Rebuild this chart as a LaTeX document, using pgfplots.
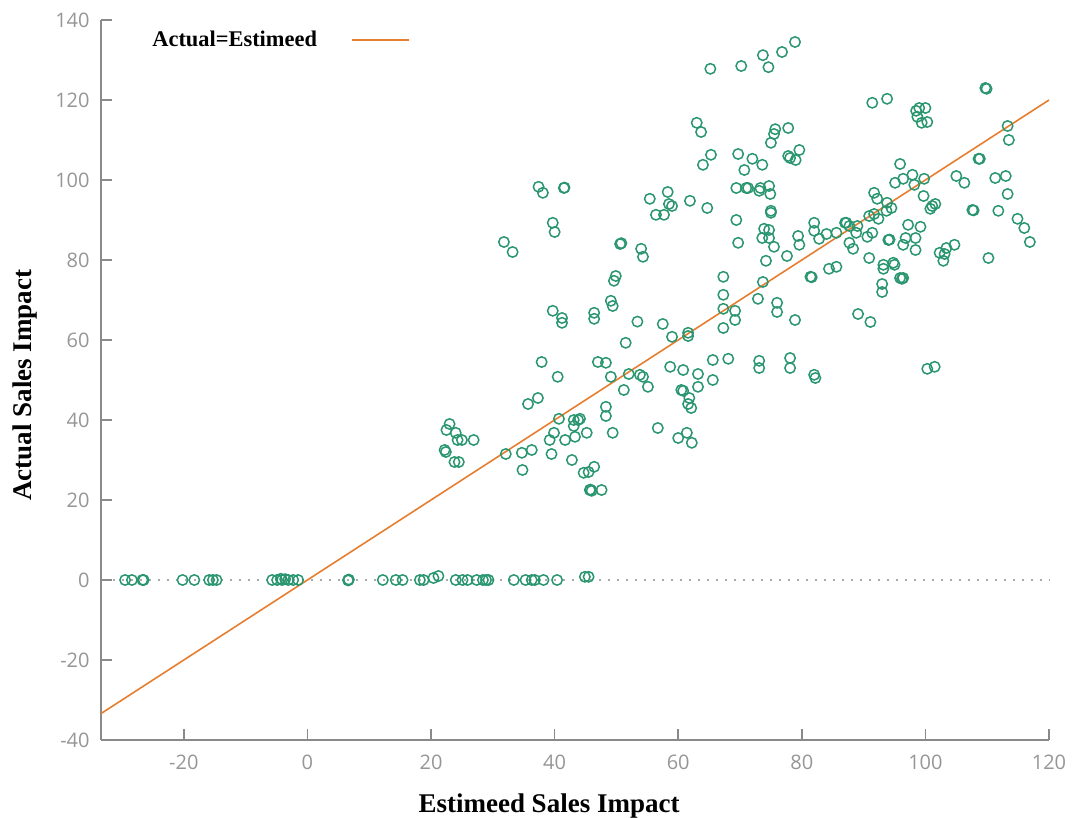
\documentclass[border=0pt]{standalone}
\usepackage{pgfplots}
\pgfplotsset{compat=1.18}
\usepackage{fontspec}
\setmainfont{Liberation Serif}
\newfontfamily\opensans{Open Sans}
\definecolor{ptgreen}{HTML}{2A9670}
\definecolor{lineorange}{HTML}{E67E30}
\definecolor{axgray}{HTML}{8A8A8A}
\definecolor{lblgray}{HTML}{969696}
\definecolor{dotgray}{HTML}{AAAAAA}
\begin{document}
\begin{tikzpicture}
\begin{axis}[
  scale only axis,
  width=474pt, height=360pt,
  xmin=-33.4, xmax=120, ymin=-40, ymax=140,
  axis lines*=left,
  axis line style={-, draw=axgray, line width=0.8pt},
  tick align=inside,
  major tick length=5.5pt,
  tick style={draw=axgray, line width=0.8pt},
  xtick={-20,0,20,40,60,80,100,120},
  xticklabels={-20,0,20,40,60,80,100,120},
  ytick={-40,-20,0,20,40,60,80,100,120,140},
  yticklabels={-40,-20,0,20,40,60,80,100,120,140},
  tick label style={font=\opensans\fontsize{10}{12}\selectfont, text=lblgray, inner sep=0pt},
  xticklabel shift=7.5pt,
  yticklabel shift=5.5pt,
  xlabel={Estimeed Sales Impact},
  ylabel={Actual Sales Impact},
  every axis x label/.style={at={(axis description cs:0.4726,-0.100)}, anchor=base,
    font=\bfseries\fontsize{13.5}{16}\selectfont},
  every axis y label/.style={at={(axis description cs:-0.0738,0.493)}, rotate=90, anchor=base,
    font=\bfseries\fontsize{13.5}{16}\selectfont},
  clip=false,
  legend plot pos=right,
  legend style={draw=none, fill=none, at={(axis description cs:0.0538,0.972)}, anchor=west,
    inner sep=0pt, column sep=17pt, nodes={inner sep=0pt},
    font=\bfseries\fontsize{11.2}{13}\selectfont},
]
% zero line
\addplot[forget plot, draw=dotgray, line width=0.8pt, dash pattern=on 0.9pt off 3.6pt] coordinates {(-31.5,0) (120,0)};
% points
\addplot[forget plot, only marks, mark=o, mark size=2.6pt, mark options={draw=ptgreen, line width=0.75pt}] table {
x y
65.2 127.8
70.2 128.5
73.7 131.2
74.6 128.2
76.8 132
78.9 134.5
63.0 114.3
63.7 112
75.7 112.7
75.5 111.5
75.0 109.3
77.8 113
65.3 106.3
64.0 103.8
69.7 106.5
72.0 105.3
73.6 103.8
70.7 102.5
77.8 106
78.1 105.5
79.6 107.5
79.0 105
69.4 98
71.0 98
71.3 98
73.3 98
74.7 98.5
73.1 97.3
74.9 96.5
55.4 95.3
58.3 97
58.5 94
59.0 93.5
61.9 94.8
64.7 93
56.4 91.3
57.7 91.3
69.4 90
75.0 92.3
75.0 91.8
73.9 87.8
74.7 87.5
73.6 85.5
74.7 85.5
69.7 84.3
75.5 83.3
77.6 81
79.4 86
79.6 83.8
82.0 89.3
82.0 87.3
84.0 86.5
85.6 86.8
87.0 89.3
82.8 85.3
54.0 82.8
54.3 80.8
74.2 79.8
37.4 98.3
38.1 96.8
41.5 98
41.6 98.1
39.7 89.3
40.0 87
31.8 84.5
33.2 82
50.6 84
50.8 84.2
49.9 76
49.6 74.8
49.1 69.8
49.4 68.5
39.7 67.3
41.2 65.5
41.2 64.3
46.4 66.8
46.4 65.3
53.4 64.6
51.5 59.3
37.9 54.5
40.5 50.8
47.0 54.5
48.3 54.3
49.1 50.8
52.0 51.5
53.8 51.3
54.3 50.8
55.1 48.3
51.2 47.5
35.7 44
37.3 45.5
48.3 43.3
48.3 41
49.4 36.8
40.7 40.3
43.1 40
43.8 40
44.1 40.3
43.1 38.5
39.9 36.8
39.2 35
41.7 35
43.3 35.8
45.2 36.8
23.0 39
22.5 37.5
24.0 36.8
24.3 35
25.0 35
26.9 35
22.2 32.5
22.4 32
23.8 29.5
24.5 29.5
32.1 31.5
34.7 31.8
36.3 32.5
39.5 31.5
34.8 27.5
42.8 30
44.7 26.8
45.5 27
46.4 28.3
45.7 22.5
46.0 22.3
45.8 22.6
47.6 22.5
67.3 75.8
73.7 74.5
67.3 71.3
72.9 70.3
76.0 69.3
76.0 67
67.3 67.8
69.2 67.3
69.2 65
78.9 65
67.3 63
57.5 64
59.0 60.8
61.6 61.8
61.6 61
81.4 75.8
81.6 75.7
84.4 77.8
85.6 78.3
58.7 53.3
60.8 52.5
63.2 51.5
65.6 55
68.1 55.3
65.6 50
63.2 48.3
60.5 47.5
60.8 47.3
61.8 45.5
61.6 44
62.1 43
73.1 54.8
73.1 53
78.1 55.5
78.1 53
82.0 51.3
82.2 50.5
56.7 38
60.0 35.5
61.4 36.8
62.2 34.3
109.7 123
109.9 122.8
91.4 119.3
93.8 120.3
98.5 117.3
99.0 118
100.0 118
98.7 115.8
99.4 114.3
100.3 114.5
113.3 113.5
113.5 110
95.9 104
108.6 105.3
108.8 105.3
97.9 101.3
96.4 100.3
95.1 99.3
99.8 100.3
98.2 98.8
105.0 101
106.3 99.3
111.3 100.5
113.0 101
113.3 96.5
99.7 96
91.7 96.8
92.2 95.3
93.8 94.3
94.5 93
93.7 92.3
101.1 93.5
101.6 94
100.8 92.8
107.6 92.5
107.8 92.4
111.8 92.3
114.9 90.3
116.0 88
116.9 84.5
87.2 89.3
87.7 88.5
89.0 88.5
88.8 86.8
90.9 91
91.7 91.5
92.4 90.3
90.6 85.8
91.4 86.8
87.7 84.3
88.3 82.8
97.2 88.8
99.2 88.3
96.8 85.5
98.4 85.5
96.4 83.8
98.4 82.5
94.0 85
94.2 85.1
90.9 80.5
102.3 81.8
103.1 81.5
103.4 83
104.7 83.8
102.9 79.8
110.2 80.5
94.8 79.3
93.2 78.8
93.2 77.8
95.0 78.8
95.9 75.5
96.4 75.5
96.2 75.3
93.0 74
93.0 72
89.1 66.5
91.1 64.5
100.3 52.8
101.5 53.3
-29.5 0
-28.4 0
-26.7 0
-26.5 0
-20.2 0
-18.3 0
-15.9 0
-15.3 0
-14.7 0
-5.7 0
-4.9 0
-4.3 0.3
-4.1 0
-3.6 0.2
-3.1 0
-2.3 0
-1.5 0
6.6 0
6.7 0.1
6.6 -0.1
12.2 0
14.3 0
15.4 0
18.2 0
18.8 0
20.4 0.5
21.2 1
24.0 0
25.1 0
25.9 0
27.4 0
28.4 0
28.9 0
29.3 0
33.4 0
35.3 0
36.3 0
36.8 0
38.2 0
40.4 0
44.9 0.8
45.5 0.8
};
% identity line
\addplot[draw=lineorange, line width=0.8pt,
  legend image code/.code={\draw[draw=lineorange, line width=0.8pt] (0pt,0pt) -- (28.5pt,0pt);}]
  coordinates {(-33.4,-33.4) (120,120)};
\addlegendentry{Actual=Estimeed}
\end{axis}
\pgfresetboundingbox
\path[use as bounding box] (-50.5pt,-39pt) rectangle (487pt,370pt);
\end{tikzpicture}
\end{document}
